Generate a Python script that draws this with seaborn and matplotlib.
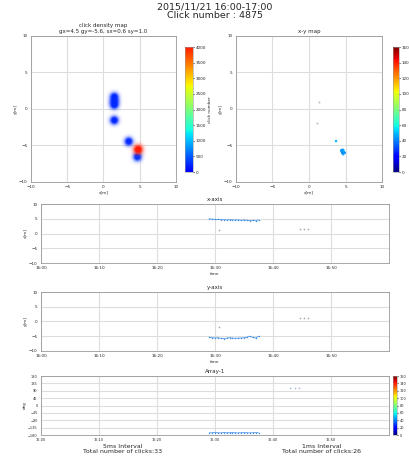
import numpy as np
import pandas as pd
import seaborn as sns
import matplotlib
matplotlib.use("Agg")
import matplotlib.pyplot as plt
from matplotlib.colors import ListedColormap, Normalize
from matplotlib.cm import ScalarMappable

# density map blobs (centre x, centre y, click count, spread)
blob_x = [1.5, 1.5, 1.5, 1.5, 3.5, 4.7, 4.8]
blob_y = [1.6, 1.0, 0.5, -1.6, -4.5, -6.6, -5.6]
blob_peak = [250, 250, 250, 220, 250, 300, 4000]
blob_sigma = [0.38, 0.38, 0.38, 0.38, 0.38, 0.38, 0.42]

# x-y map points
xy_x = [3.7, 4.5, 4.6, 4.7, 4.5, 4.6, 4.7, 4.8, 4.6, 4.5, 4.7, 4.9, 4.4]
xy_y = [-4.4, -5.6, -5.7, -5.8, -5.9, -6.0, -5.6, -5.9, -6.1, -5.8, -6.2, -6.0, -5.7]
xy_c = [48, 40, 45, 50, 42, 38, 45, 48, 40, 44, 46, 42, 44]
faint_x = [1.4, 1.1]
faint_y = [1.0, -1.9]

# time series (minutes after 16:00)
t_main = [29.0, 29.5, 30.0, 30.5, 31.0, 31.5, 32.0, 32.5, 33.0, 33.5, 34.0,
          34.5, 35.0, 35.5, 36.0, 36.5, 37.0, 37.5]
x_main = [5.0, 4.9, 4.8, 4.8, 4.7, 4.7, 4.6, 4.7, 4.6, 4.6, 4.6,
          4.5, 4.6, 4.5, 4.4, 4.5, 4.3, 4.6]
y_main = [-5.3, -5.5, -5.6, -5.5, -5.7, -5.8, -5.6, -5.5, -5.6, -5.7, -5.6,
          -5.6, -5.5, -5.3, -5.0, -5.4, -5.6, -5.0]
t_side = [30.7, 44.6, 45.3, 46.0]
x_side = [1.2, 1.5, 1.4, 1.6]
y_side = [-1.7, 1.2, 1.1, 1.3]
deg_main = [-167, -166, -165, -166, -167, -165, -166, -166, -165, -166, -167,
            -166, -165, -166, -167, -166, -165, -166]
t_deg_side = [43.0, 43.8, 44.5]
deg_side = [108, 105, 110]

time_ticks = [0, 10, 20, 30, 40, 50]
time_labels = ["16:00", "16:10", "16:20", "16:30", "16:40", "16:50"]

sns.set_style("whitegrid", {"grid.color": "#dddddd", "axes.edgecolor": "#999999"})
plt.rcParams["font.family"] = ["DejaVu Sans"]

fig = plt.figure(figsize=(4.09, 4.57), dpi=100)
fs = 3
pt_color = "#3a8ee6"

jet = plt.get_cmap("jet")
dens_cmap = ListedColormap(jet(np.linspace(0.12, 0.88, 256)))
dens_norm = Normalize(0, 4000)


def style(ax, title=None, xlabel=None, ylabel=None):
    ax.tick_params(labelsize=fs, length=1.5, pad=1)
    if title:
        ax.set_title(title, fontsize=4, pad=2)
    if xlabel:
        ax.set_xlabel(xlabel, fontsize=fs, labelpad=1)
    if ylabel:
        ax.set_ylabel(ylabel, fontsize=fs, labelpad=1)
    for s in ax.spines.values():
        s.set_linewidth(0.6)
        s.set_visible(True)


# density map: each blob coloured by its count, fading out with distance
ax_d = fig.add_axes([0.0758, 0.6018, 0.3545, 0.3195])
gx = np.linspace(-10, 10, 241)
GX, GY = np.meshgrid(gx, gx)
for bx, by, bp, bs in zip(blob_x, blob_y, blob_peak, blob_sigma):
    rgba = np.zeros(GX.shape + (4,))
    rgba[..., :] = dens_cmap(dens_norm(bp))
    rgba[..., 3] = np.clip(1.5 * np.exp(-((GX - bx) ** 2 + (GY - by) ** 2) / (2 * bs ** 2)), 0, 1)
    ax_d.imshow(rgba, origin="lower", extent=(-10, 10, -10, 10),
                interpolation="bicubic", zorder=2 + bp / 4000)
ax_d.set_xlim(-10, 10)
ax_d.set_ylim(-10, 10)
ax_d.set_aspect("auto")
ax_d.set_xticks([-10, -5, 0, 5, 10])
ax_d.set_yticks([-10, -5, 0, 5, 10])
style(ax_d, "click density map\ngx=4.5 gy=-5.6, sx=0.6 sy=1.0", "x[m]", "y[m]")
cax_d = fig.add_axes([0.4523, 0.6236, 0.0196, 0.2735])
cb = fig.colorbar(ScalarMappable(dens_norm, dens_cmap), cax=cax_d,
                  ticks=np.arange(0, 4001, 500))
cb.ax.tick_params(labelsize=fs, length=1, pad=1)
cb.set_label("click number", fontsize=fs, labelpad=1)
cb.outline.set_linewidth(0.4)

# x-y map
ax_xy = fig.add_axes([0.577, 0.6018, 0.357, 0.3195])
df_xy = pd.DataFrame({"x": xy_x, "y": xy_y, "c": xy_c})
sns.scatterplot(data=df_xy, x="x", y="y", hue="c", palette=jet, hue_norm=(0, 160),
                s=3, linewidth=0, legend=False, ax=ax_xy, zorder=3)
sns.scatterplot(x=faint_x, y=faint_y, color="#bbbbbb", s=2, linewidth=0, ax=ax_xy, zorder=3)
ax_xy.set_xlim(-10, 10)
ax_xy.set_ylim(-10, 10)
ax_xy.set_xticks([-10, -5, 0, 5, 10])
ax_xy.set_yticks([-10, -5, 0, 5, 10])
style(ax_xy, "x-y map", "x[m]", "y[m]")
cax_xy = fig.add_axes([0.961, 0.6236, 0.015, 0.2735])
cb2 = fig.colorbar(ScalarMappable(Normalize(0, 160), jet), cax=cax_xy,
                   ticks=np.arange(0, 161, 20))
cb2.ax.tick_params(labelsize=fs, length=1, pad=1)
cb2.outline.set_linewidth(0.4)

# x-axis / y-axis time series
for bottom, vals, side, title, ylab in [(0.4245, x_main, x_side, "x-axis", "x[m]"),
                                        (0.232, y_main, y_side, "y-axis", "y[m]")]:
    ax = fig.add_axes([0.1002, bottom, 0.851, 0.129])
    sns.lineplot(x=t_main, y=vals, color=pt_color, lw=0.5, marker="o", ms=1,
                 mec="none", ax=ax)
    sns.scatterplot(x=t_side, y=side, color="#aaaaaa", s=1.5, linewidth=0, ax=ax)
    ax.set_xlim(0, 60)
    ax.set_ylim(-10, 10)
    ax.set_xticks(time_ticks)
    ax.set_xticklabels(time_labels)
    ax.set_yticks([-10, -5, 0, 5, 10])
    style(ax, title, "time", ylab)

# Array-1
ax_a = fig.add_axes([0.1002, 0.0481, 0.851, 0.129])
sns.lineplot(x=t_main, y=deg_main, color=pt_color, lw=0.5, marker="o", ms=1,
             mec="none", ax=ax_a)
sns.scatterplot(x=t_deg_side, y=deg_side, color="#aabbdd", s=1.5, linewidth=0, ax=ax_a)
ax_a.set_xlim(0, 60)
ax_a.set_ylim(-180, 180)
ax_a.set_xticks(time_ticks)
ax_a.set_xticklabels(time_labels)
ax_a.set_yticks(np.arange(-180, 181, 45))
style(ax_a, "Array-1", None, "deg")
ax_a.tick_params(labelsize=2.5)
cax_a = fig.add_axes([0.961, 0.0481, 0.01, 0.129])
cb3 = fig.colorbar(ScalarMappable(Normalize(0, 160), jet), cax=cax_a,
                   ticks=np.arange(0, 161, 20))
cb3.ax.tick_params(labelsize=2.5, length=1, pad=1)
cb3.outline.set_linewidth(0.4)

fig.text(0.30, 0.018, "5ms Interval\nTotal number of clicks:33", ha="center",
         va="center", fontsize=4.5, linespacing=0.9)
fig.text(0.787, 0.018, "1ms Interval\nTotal number of clicks:26", ha="center",
         va="center", fontsize=4.5, linespacing=0.9)

fig.suptitle("2015/11/21 16:00-17:00\nClick number : 4875", x=0.525, y=0.995,
             fontsize=6.8, va="top", linespacing=1.0)

fig.savefig("out.png", dpi=100)
